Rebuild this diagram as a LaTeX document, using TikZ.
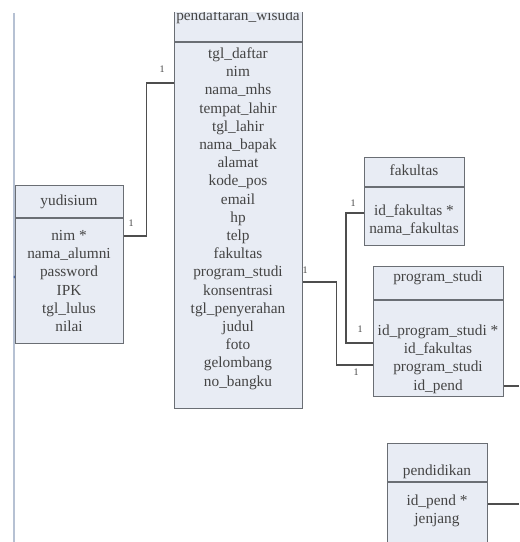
\documentclass[tikz,border=0pt]{standalone}
\usepackage{fontspec}
\setmainfont{Liberation Serif}
\usetikzlibrary{calc}
\definecolor{boxfill}{HTML}{E8ECF4}
\definecolor{boxline}{HTML}{6A6E74}
\definecolor{txt}{HTML}{444444}
\definecolor{wire}{HTML}{4E4E4E}
\definecolor{rail}{HTML}{B6C1D3}
\definecolor{dotblue}{HTML}{4A66A0}
\begin{document}
\begin{tikzpicture}[x=0.75pt,y=-0.75pt,
  ebox/.style={draw=boxline, fill=boxfill, line width=1.1pt, inner sep=0pt, anchor=north west},
  sepline/.style={draw=boxline, line width=1.1pt},
  field/.style={font=\fontsize{11.5}{12.5}\selectfont, text=txt, inner sep=0pt,
                text height=7.8pt, text depth=2.6pt},
  link/.style={draw=wire, line width=0.9pt},
  card/.style={font=\fontsize{7.5}{8}\selectfont, text=txt, inner sep=0pt}]
\useasboundingbox (0,0) rectangle (519,542);
\begin{scope}
\clip (0,13) rectangle (519,542);

% page rail on the left
\draw[rail, line width=1.5pt] (14,13) coordinate (railtop) -- (14,542) coordinate (railbot);
\fill[dotblue] (15,277) circle (1.3pt);

% ---------- pendaftaran_wisuda ----------
\node[ebox, minimum width=96pt, minimum height=302.25pt] (pend) at (174,5) {};
\draw[sepline] (pend.west |- 0,42) -- (pend.east |- 0,42);
\node[field] (pend-t) at (238,17) {pendaftaran\_wisuda};
\foreach \t [count=\i from 0] in {tgl\_daftar, nim, nama\_mhs, tempat\_lahir, tgl\_lahir,
    nama\_bapak, alamat, kode\_pos, email, hp, telp, fakultas, program\_studi,
    konsentrasi, tgl\_penyerahan, judul, foto, gelombang, no\_bangku}
  \node[field] (pend-\i) at (238,55+\i*18.2) {\t};

% ---------- yudisium ----------
\node[ebox, minimum width=81pt, minimum height=118.5pt] (yud) at (15,185) {};
\draw[sepline] (yud.west |- 0,218) -- (yud.east |- 0,218);
\node[field] (yud-t) at (69,202) {yudisium};
\foreach \t [count=\i from 0] in {nim *, nama\_alumni, password, IPK, tgl\_lulus, nilai}
  \node[field] (yud-\i) at (69,237+\i*18.2) {\t};

% ---------- fakultas ----------
\node[ebox, minimum width=75pt, minimum height=66pt] (fak) at (364,157) {};
\draw[sepline] (fak.west |- 0,187) -- (fak.east |- 0,187);
\node[field] (fak-t) at (414,172) {fakultas};
\foreach \t [count=\i from 0] in {id\_fakultas *, nama\_fakultas}
  \node[field] (fak-\i) at (414,212+\i*18.2) {\t};

% ---------- program_studi ----------
\node[ebox, minimum width=97.5pt, minimum height=97.5pt] (prog) at (373,266) {};
\draw[sepline] (prog.west |- 0,300) -- (prog.east |- 0,300);
\node[field] (prog-t) at (438,278) {program\_studi};
\foreach \t [count=\i from 0] in {id\_program\_studi *, id\_fakultas, program\_studi, id\_pend}
  \node[field] (prog-\i) at (438,332+\i*18.2) {\t};

% ---------- pendidikan ----------
\node[ebox, minimum width=75pt, minimum height=90pt] (pendi) at (387,443) {};
\draw[sepline] (pendi.west |- 0,482) -- (pendi.east |- 0,482);
\node[field] (pendi-t) at (437,472) {pendidikan};
\foreach \t [count=\i from 0] in {id\_pend *, jenjang}
  \node[field] (pendi-\i) at (437,502+\i*18.2) {\t};

% ---------- relations ----------
\coordinate (edgeA) at (519,386);
\coordinate (edgeB) at (519,504);
\draw[link] (yud.east |- 0,236) -- ++(22,0) |- (pend.west |- 0,83);
\draw[link] (fak.west |- 0,213) -- ++(-18,0) |- (prog.west |- 0,343);
\draw[link] (pend.east |- 0,282) -- ++(33,0) |- (prog.west |- 0,365);
\draw[link] (prog.east |- edgeA) -- (edgeA);
\draw[link] (pendi.east |- edgeB) -- (edgeB);

% cardinalities
\node[card] (c1) at (162,69) {1};
\node[card] (c2) at (131,223) {1};
\node[card] (c3) at (353,203) {1};
\node[card] (c4) at (360,329) {1};
\node[card] (c5) at (305,270) {1};
\node[card] (c6) at (356,372) {1};
\end{scope}
\end{tikzpicture}
\end{document}
